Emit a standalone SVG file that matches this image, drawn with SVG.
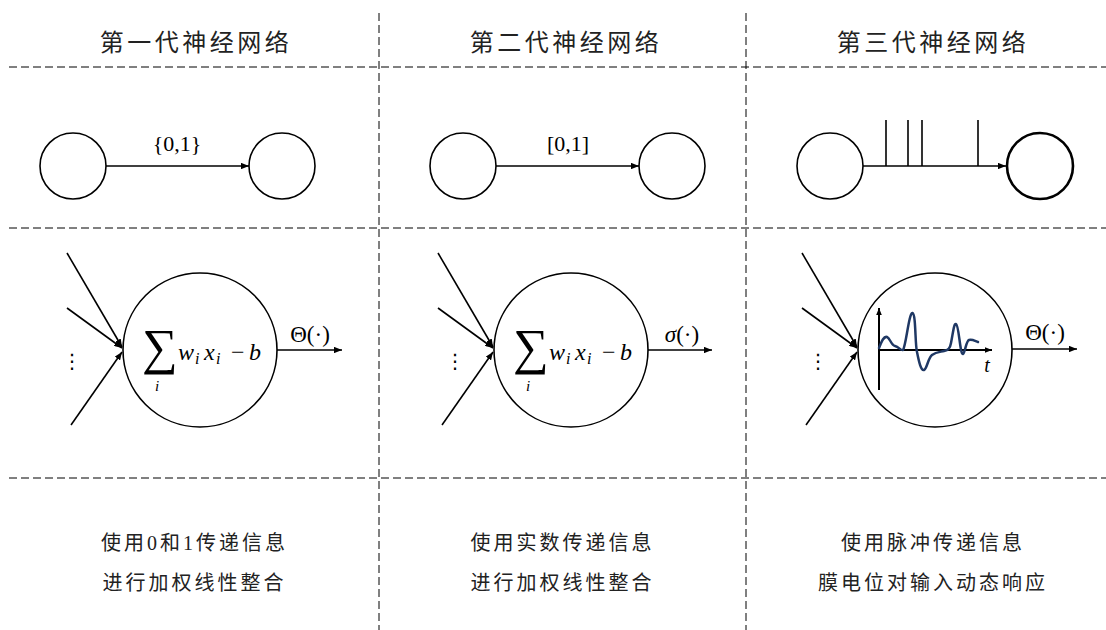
<svg xmlns="http://www.w3.org/2000/svg" width="1106" height="630" viewBox="0 0 1106 630">
<defs>
<marker id="ah" viewBox="0 0 10 8" refX="10" refY="4" markerWidth="8" markerHeight="6.4" orient="auto" markerUnits="userSpaceOnUse">
<path d="M0,0 L10,4 L0,8 z" fill="#000"/>
</marker>
<marker id="ahs" viewBox="0 0 10 8" refX="10" refY="4" markerWidth="7" markerHeight="5.6" orient="auto" markerUnits="userSpaceOnUse">
<path d="M0,0 L10,4 L0,8 z" fill="#000"/>
</marker>
</defs>
<style>
.grid{stroke:#000;stroke-width:1;stroke-dasharray:8 4;fill:none}
.node{fill:#fff;stroke:#000;stroke-width:1.6}
.node.thick{stroke-width:2.6}
.edge{stroke:#000;stroke-width:1.6;fill:none;marker-end:url(#ah)}
.spike{stroke:#000;stroke-width:1.6;fill:none}
.axis{stroke:#000;stroke-width:2;fill:none;marker-end:url(#ahs)}
.cjk{font-family:"Liberation Serif","Noto Sans CJK SC",serif;fill:#222}
.title{font-size:24px;letter-spacing:3.5px;text-anchor:middle}
.desc{font-size:20px;letter-spacing:3px;text-anchor:middle}
.math{font-family:"Liberation Serif","DejaVu Serif",serif;fill:#000}
.it{font-style:italic}
.wave{stroke:#1f3864;stroke-width:2.5;fill:none;stroke-linecap:round;stroke-linejoin:round}
</style>
<rect width="1106" height="630" fill="#fff"/>

<g id="grid">
<line class="grid" x1="9" y1="67" x2="1106" y2="67"/>
<line class="grid" x1="9" y1="228" x2="1106" y2="228"/>
<line class="grid" x1="9" y1="478" x2="1106" y2="478"/>
<line class="grid" x1="379" y1="13" x2="379" y2="630"/>
<line class="grid" x1="746" y1="13" x2="746" y2="630"/>
</g>

<g id="titles" class="cjk">
<text class="title" x="196" y="51">第一代神经网络</text>
<text class="title" x="566" y="51">第二代神经网络</text>
<text class="title" x="933" y="51">第三代神经网络</text>
</g>

<g id="connectors">
<line class="edge" x1="106" y1="166" x2="249" y2="166"/>
<line class="edge" x1="496" y1="166" x2="639" y2="166"/>
<line class="edge" x1="863" y1="166" x2="1006" y2="166"/>
<line class="spike" x1="886" y1="120" x2="886" y2="166"/>
<line class="spike" x1="908" y1="120" x2="908" y2="166"/>
<line class="spike" x1="922" y1="120" x2="922" y2="166"/>
<line class="spike" x1="978" y1="120" x2="978" y2="166"/>

<line class="edge" x1="67" y1="253" x2="122" y2="347"/>
<line class="edge" x1="67" y1="308" x2="122" y2="348"/>
<line class="edge" x1="71" y1="425" x2="122" y2="352"/>
<line class="edge" x1="277" y1="350" x2="342" y2="350"/>

<line class="edge" x1="438" y1="253" x2="493" y2="347"/>
<line class="edge" x1="438" y1="308" x2="493" y2="348"/>
<line class="edge" x1="442" y1="425" x2="493" y2="352"/>
<line class="edge" x1="648" y1="350" x2="712" y2="350"/>

<line class="edge" x1="802" y1="253" x2="857" y2="347"/>
<line class="edge" x1="802" y1="308" x2="857" y2="348"/>
<line class="edge" x1="806" y1="425" x2="857" y2="352"/>
<line class="edge" x1="1012" y1="349" x2="1077" y2="349"/>
</g>

<g id="labels" class="math">
<text x="177" y="151" font-size="22" text-anchor="middle">{0,1}</text>
<text x="568" y="151" font-size="22" text-anchor="middle">[0,1]</text>
<text x="310" y="342" font-size="23" text-anchor="middle">Θ(·)</text>
<text x="682" y="342" font-size="23" text-anchor="middle"><tspan class="it">σ</tspan>(·)</text>
<text x="1045" y="340" font-size="23" text-anchor="middle">Θ(·)</text>
<text x="72" y="368" font-size="20" text-anchor="middle" font-family="DejaVu Sans">⋮</text>
<text x="455" y="368" font-size="20" text-anchor="middle" font-family="DejaVu Sans">⋮</text>
<text x="818" y="368" font-size="20" text-anchor="middle" font-family="DejaVu Sans">⋮</text>
</g>

<g id="n1-in">
<circle class="node" cx="73" cy="166" r="33"/>
</g>
<g id="n1-out">
<circle class="node" cx="282" cy="166" r="33"/>
</g>
<g id="n2-in">
<circle class="node" cx="463" cy="166" r="33"/>
</g>
<g id="n2-out">
<circle class="node" cx="672" cy="166" r="33"/>
</g>
<g id="n3-in">
<circle class="node" cx="830" cy="166" r="33"/>
</g>
<g id="n3-out">
<circle class="node thick" cx="1040" cy="166" r="33"/>
</g>

<g id="neuron1">
<circle class="node" cx="200" cy="350" r="77"/>
<text class="math" font-size="24"><tspan x="142" y="364" font-size="50">∑</tspan><tspan class="it" x="155" y="391" font-size="15">i</tspan><tspan class="it" x="178" y="360">w</tspan><tspan class="it" x="195" y="364" font-size="16">i</tspan><tspan class="it" x="204" y="360">x</tspan><tspan class="it" x="216" y="364" font-size="16">i</tspan><tspan x="231" y="360">−</tspan><tspan class="it" x="249" y="360">b</tspan></text>
</g>

<g id="neuron2">
<circle class="node" cx="571" cy="350" r="77"/>
<text class="math" font-size="24"><tspan x="513" y="364" font-size="50">∑</tspan><tspan class="it" x="526" y="391" font-size="15">i</tspan><tspan class="it" x="549" y="360">w</tspan><tspan class="it" x="566" y="364" font-size="16">i</tspan><tspan class="it" x="575" y="360">x</tspan><tspan class="it" x="587" y="364" font-size="16">i</tspan><tspan x="602" y="360">−</tspan><tspan class="it" x="620" y="360">b</tspan></text>
</g>

<g id="neuron3">
<circle class="node" cx="935" cy="350" r="77"/>
<line class="axis" x1="879" y1="390" x2="879" y2="308"/>
<line class="axis" x1="878" y1="350" x2="992" y2="350"/>
<path class="wave" d="M879,348 C882,340 884,336 887,337 C890,338 891,345 895,346 C899,347 901,351 903,350 C906,346 909,312 912.5,313 C916,314 915,345 917,352 C919,362 921,371 924,370 C927,369 928,358 932,355 C936,352 940,352 944,351 C948,350 950,349 951,343 C953,333 954,323 956,324 C959,325 960,355 963,354 C965,353 966,341 969,340 C972,339 975,341 978,342"/>
<text class="math it" x="987" y="372" font-size="20" text-anchor="middle">t</text>
</g>

<g id="desc" class="cjk">
<text class="desc" x="194.5" y="550">使用0和1传递信息</text>
<text class="desc" x="194.5" y="590">进行加权线性整合</text>
<text class="desc" x="562.5" y="550">使用实数传递信息</text>
<text class="desc" x="562.5" y="590">进行加权线性整合</text>
<text class="desc" x="933" y="550">使用脉冲传递信息</text>
<text class="desc" x="933" y="590">膜电位对输入动态响应</text>
</g>
</svg>
